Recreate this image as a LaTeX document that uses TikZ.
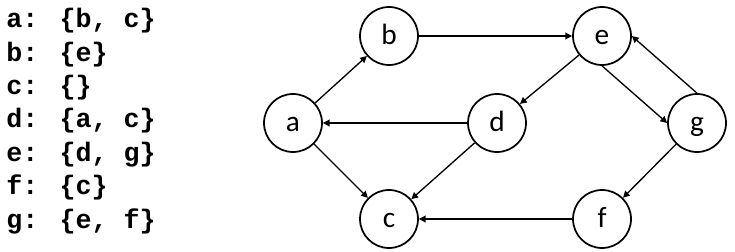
\documentclass[tikz,border=0pt]{standalone}
\usepackage{fontspec}
\usetikzlibrary{arrows.meta, positioning}
\newfontfamily\labelfont{Carlito}
\newfontfamily\listfont{Liberation Mono}

\begin{document}
\begin{tikzpicture}[node distance=1.5cm, on grid, >={Triangle[length=5pt, width=5pt]}]
  \tikzstyle{vertex} = [circle, draw, line width=1.3pt, minimum size=43.5pt, inner sep=0pt, text height=17.5pt, text depth=4pt, font=\labelfont\fontsize{22}{24}\selectfont]
  \tikzstyle{edge} = [->, line width=1pt]

  \useasboundingbox (0,0) rectangle (551.25pt,-189pt);

  % adjacency list
  \node [anchor=north west, inner sep=0pt, align=left, font=\listfont\bfseries\fontsize{20}{25.1}\selectfont] (list) at (4.5pt,-6pt)
    {a: \{b, c\}\\ b: \{e\}\\ c: \{\}\\ d: \{a, c\}\\ e: \{d, g\}\\ f: \{c\}\\ g: \{e, f\}};

  % graph
  \node [vertex] (a) at (219.75pt,-92.25pt) {a};
  \node [vertex, above right=65.25pt and 72pt of a] (b) {b};
  \node [vertex, below right=72pt and 72pt of a] (c) {c};
  \node [vertex, right=153pt of a] (d) {d};
  \node [vertex, right=159.75pt of b] (e) {e};
  \node [vertex, right=159.75pt of c] (f) {f};
  \node [vertex, right=150pt of d] (g) {g};

  \draw[edge] (a) -- (b);
  \draw[edge] (a) -- (c);
  \draw[edge] (b) -- (e);
  \draw[edge] (d) -- (a);
  \draw[edge] (d) -- (c);
  \draw[edge] (e) -- (d);
  \draw[edge] (e.south) -- (g.west);
  \draw[edge] (g.north) -- (e.east);
  \draw[edge] (g) -- (f);
  \draw[edge] (f) -- (c);
\end{tikzpicture}
\end{document}
